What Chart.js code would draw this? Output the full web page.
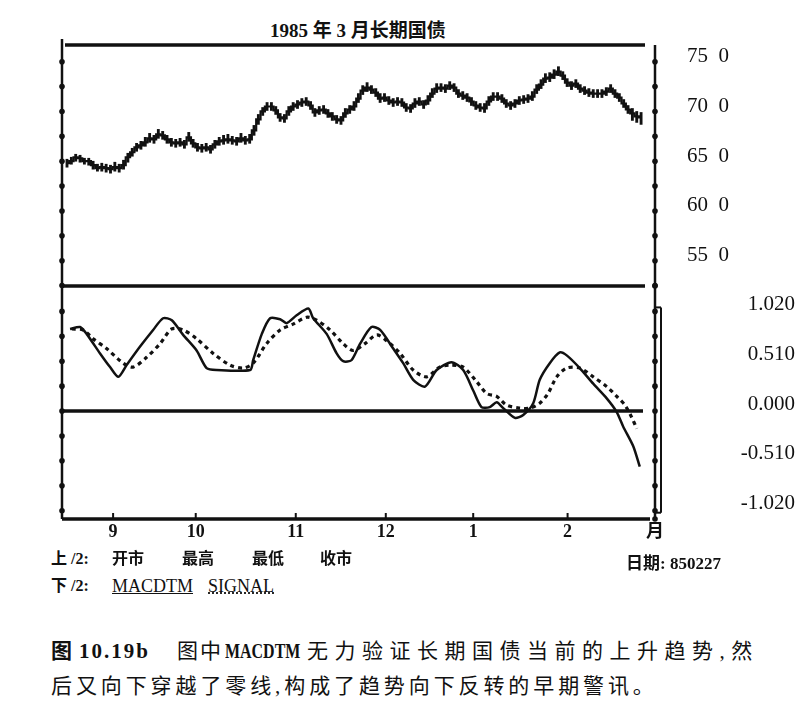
<!DOCTYPE html>
<html>
<head>
<meta charset="utf-8">
<script src="https://cdn.jsdelivr.net/npm/chart.js@4.4.1/dist/chart.umd.min.js"></script>
<style>
body { margin: 0; background: #fff; width: 795px; height: 709px; overflow: hidden; position: relative;
       font-family: "Liberation Serif", "Noto Sans CJK SC", serif; color: #111; }
canvas { position: absolute; left: 0; }
#priceChart { top: 0; }
#macdChart { top: 280px; }
.t { position: absolute; white-space: pre; line-height: 1; }
.b { font-weight: bold; }
</style>
</head>
<body>
<div class="t b" style="left:0;width:716px;text-align:center;top:21px;font-size:19px">1985 年 3 月长期国债</div>

<canvas id="priceChart" width="795" height="300"></canvas>
<canvas id="macdChart" width="795" height="270"></canvas>

<div class="t b" style="left:51px;top:551px;font-size:16px">上 /2:</div>
<div class="t b" style="left:112px;top:551px;font-size:16px">开市</div>
<div class="t b" style="left:182px;top:551px;font-size:16px">最高</div>
<div class="t b" style="left:252px;top:551px;font-size:16px">最低</div>
<div class="t b" style="left:320px;top:551px;font-size:16px">收市</div>
<div class="t b" style="left:626px;top:555px;font-size:17px">日期: 850227</div>
<div class="t b" style="left:51px;top:578px;font-size:16px">下 /2:</div>
<div class="t" style="left:112px;top:577px;font-size:18px;text-decoration:underline">MACDTM</div>
<div class="t" style="left:208px;top:577px;font-size:18px;text-decoration:underline dotted">SIGNAL</div>

<div class="t b" style="left:51px;top:641px;font-size:21px">图</div>
<div class="t b" style="left:79px;top:641px;font-size:21px;letter-spacing:2px">10.19b</div>
<div class="t" style="left:177px;top:641px;font-size:21px;letter-spacing:2px">图中</div>
<div class="t b" style="left:225px;top:641px;font-size:21px;transform:scaleX(0.76);transform-origin:0 0">MACDTM</div>
<div class="t" style="left:307px;top:641px;font-size:21px;letter-spacing:6.5px">无力验证长期国债当前的上升趋势,然</div>
<div class="t" style="left:51px;top:676px;font-size:21px;letter-spacing:3.9px">后又向下穿越了零线,构成了趋势向下反转的早期警讯。</div>

<script>
// trading days from mid Aug 1984 to 27 Feb 1985
const closes = [
  64.8, 65.0, 65.4, 65.3, 65.0, 65.0, 64.6, 64.3, 64.4, 64.3,
  64.2, 64.4, 64.3, 64.6, 65.4, 65.9, 66.4, 66.6, 66.9, 67.3,
  67.2, 67.7, 67.6, 67.2, 66.9, 66.8, 66.9, 66.7, 67.4, 66.8,
  66.4, 66.3, 66.4, 66.2, 66.7, 67.0, 67.1, 67.2, 67.1, 67.0,
  67.3, 67.1, 67.2, 68.1, 69.2, 70.0, 70.5, 70.5, 70.1, 69.4,
  69.3, 70.0, 70.5, 70.7, 70.9, 71.0, 70.6, 69.9, 70.1, 70.2,
  69.8, 69.5, 69.2, 69.1, 69.8, 70.2, 70.5, 71.3, 72.1, 72.4,
  72.2, 71.9, 71.3, 71.4, 71.1, 70.9, 71.0, 70.9, 70.4, 70.3,
  70.8, 71.0, 70.7, 71.1, 71.8, 72.3, 72.4, 72.3, 72.6, 72.4,
  71.8, 71.6, 71.4, 71.0, 70.6, 70.4, 70.3, 71.0, 71.5, 71.5,
  71.3, 70.8, 70.6, 70.8, 71.1, 71.2, 71.3, 71.5, 72.2, 72.7,
  73.3, 73.4, 73.7, 74.0, 73.6, 72.9, 72.6, 72.8, 72.3, 72.1,
  71.9, 71.8, 71.8, 71.8, 72.0, 72.3, 71.8, 71.4, 70.8, 70.2,
  69.8, 69.5, 69.4
];
const highs = [
  65.2, 65.4, 65.7, 65.6, 65.3, 65.3, 65.0, 64.7, 64.8, 64.7,
  64.6, 64.9, 64.7, 65.1, 65.8, 66.3, 66.8, 67.0, 67.4, 67.8,
  67.6, 68.2, 68.0, 67.6, 67.3, 67.2, 67.3, 67.1, 67.9, 67.2,
  66.8, 66.7, 66.8, 66.6, 67.1, 67.4, 67.6, 67.7, 67.5, 67.4,
  67.8, 67.5, 67.7, 68.6, 69.7, 70.4, 70.9, 70.9, 70.5, 69.8,
  69.7, 70.5, 70.9, 71.1, 71.3, 71.4, 71.0, 70.3, 70.5, 70.6,
  70.2, 69.9, 69.6, 69.5, 70.3, 70.6, 71.0, 71.8, 72.6, 72.9,
  72.6, 72.3, 71.8, 71.8, 71.5, 71.3, 71.4, 71.3, 70.8, 70.7,
  71.3, 71.4, 71.1, 71.6, 72.3, 72.8, 72.8, 72.7, 73.0, 72.8,
  72.2, 72.0, 71.8, 71.4, 71.0, 70.8, 70.8, 71.5, 71.9, 71.9,
  71.7, 71.2, 71.0, 71.2, 71.5, 71.6, 71.7, 72.0, 72.7, 73.2,
  73.8, 73.9, 74.2, 74.5, 74.0, 73.3, 73.0, 73.2, 72.7, 72.5,
  72.3, 72.2, 72.2, 72.2, 72.4, 72.7, 72.2, 71.8, 71.2, 70.6,
  70.3, 70.0, 69.9
];
const lows = [
  64.4, 64.7, 65.0, 64.9, 64.7, 64.6, 64.2, 64.0, 64.0, 63.9,
  63.8, 64.0, 63.9, 64.2, 64.9, 65.5, 66.0, 66.2, 66.5, 66.9,
  66.8, 67.3, 67.2, 66.8, 66.5, 66.4, 66.5, 66.3, 67.0, 66.4,
  66.0, 65.9, 66.0, 65.8, 66.3, 66.6, 66.7, 66.8, 66.7, 66.6,
  66.9, 66.7, 66.8, 67.6, 68.7, 69.6, 70.1, 70.1, 69.7, 69.0,
  68.9, 69.6, 70.1, 70.3, 70.5, 70.6, 70.2, 69.5, 69.7, 69.8,
  69.4, 69.1, 68.8, 68.7, 69.4, 69.8, 70.1, 70.9, 71.7, 72.0,
  71.8, 71.5, 70.9, 71.0, 70.7, 70.5, 70.6, 70.5, 70.0, 69.9,
  70.4, 70.6, 70.3, 70.7, 71.4, 71.9, 72.0, 71.9, 72.2, 72.0,
  71.4, 71.2, 71.0, 70.6, 70.2, 70.0, 69.9, 70.6, 71.1, 71.1,
  70.9, 70.4, 70.2, 70.4, 70.7, 70.8, 70.9, 71.1, 71.8, 72.3,
  72.9, 73.0, 73.3, 73.6, 73.2, 72.5, 72.2, 72.4, 71.9, 71.7,
  71.5, 71.4, 71.4, 71.4, 71.6, 71.9, 71.4, 71.0, 70.4, 69.8,
  69.1, 68.9, 68.7
];

// MACDTM and SIGNAL read at trading-day positions
const macdDays = [0.7, 3.0, 4.5, 7.6, 9.9, 11.8, 13.7, 16.8, 19.8, 22.1, 24.1, 26.7, 29.8, 32.1, 34.4,
  42.1, 42.8, 44.8, 46.7, 49.0, 50.5, 52.8, 55.5, 56.6, 59.7, 62.0, 63.5, 65.4, 67.4, 70.0,
  72.0, 75.0, 77.3, 79.6, 82.3, 85.0, 88.4, 91.1, 93.4, 95.3, 97.2, 98.8, 100.3, 103.0, 104.9,
  107.2, 108.7, 111.0, 113.3, 114.9, 117.9, 121.0, 124.1, 126.4, 127.9, 130.2, 131.7];
const macdValues = [0.84, 0.86, 0.79, 0.59, 0.45, 0.35, 0.47, 0.66, 0.83, 0.95, 0.93, 0.78, 0.62, 0.44, 0.42,
  0.42, 0.52, 0.79, 0.95, 0.94, 0.90, 0.98, 1.05, 0.95, 0.79, 0.59, 0.51, 0.52, 0.69, 0.86,
  0.83, 0.64, 0.49, 0.32, 0.25, 0.42, 0.50, 0.42, 0.21, 0.04, 0.04, 0.09, 0.03, -0.07, -0.04,
  0.08, 0.32, 0.49, 0.60, 0.57, 0.44, 0.28, 0.13, -0.01, -0.16, -0.36, -0.57];
const signalDays = [1.1, 3.7, 6.0, 9.1, 12.9, 15.2, 18.3, 21.4, 24.1, 26.7, 29.8, 33.6, 37.5, 40.5, 42.8,
  45.9, 49.0, 52.0, 55.1, 57.4, 60.5, 63.5, 65.8, 68.5, 71.2, 73.5, 76.6, 79.6, 82.7, 85.7,
  88.4, 91.1, 94.2, 96.5, 98.8, 101.1, 104.1, 106.4, 108.7, 110.6, 112.6, 114.9, 117.9, 121.0,
  124.1, 126.4, 128.3, 129.8, 131.0];
const signalValues = [0.84, 0.83, 0.74, 0.64, 0.49, 0.45, 0.55, 0.69, 0.84, 0.83, 0.74, 0.59, 0.47, 0.44, 0.49,
  0.69, 0.83, 0.89, 0.96, 0.93, 0.83, 0.69, 0.62, 0.69, 0.78, 0.72, 0.59, 0.42, 0.35, 0.45,
  0.47, 0.45, 0.30, 0.18, 0.15, 0.06, 0.03, 0.03, 0.08, 0.18, 0.35, 0.44, 0.44, 0.35,
  0.25, 0.15, 0.06, -0.06, -0.18];

const priceTicks = [52.5, 55, 57.5, 60, 62.5, 65, 67.5, 70, 72.5, 75];
const priceTickLabels = ['', '55  0', '', '60  0', '', '65  0', '', '70  0', '', '75  0'];
const macdTicks = [-1.02, -0.765, -0.51, -0.255, 0, 0.255, 0.51, 0.765, 1.02];
const macdTickLabels = ['-1.020', '', '-0.510', '', '0.000', '', '0.510', '', '1.020'];
const monthTicks = [10.6, 29.6, 52.6, 73.3, 93.4, 115.1, 135.2];
const monthLabels = ['9', '10', '11', '12', '1', '2', '月'];

const ink = '#111';
const dayMin = -1.15, dayMax = 135.2;

function dot(ctx, x, y) {
    ctx.beginPath();
    ctx.arc(x, y, 2.8, 0, Math.PI * 2);
    ctx.fill();
}
function line(ctx, x0, y0, x1, y1, w) {
    ctx.lineWidth = w;
    ctx.beginPath();
    ctx.moveTo(x0, y0);
    ctx.lineTo(x1, y1);
    ctx.stroke();
}
// keep the axis boxes exactly where the page layout wants them
function fixWidth(s) { s.width = 140; s.paddingTop = 0; s.paddingBottom = 0; }

const priceFrame = {
    id: 'priceFrame',
    afterDraw(chart) {
        const { ctx, chartArea: a, scales: { y } } = chart;
        ctx.save();
        ctx.strokeStyle = ink; ctx.fillStyle = ink;
        line(ctx, a.left + 3, a.top, a.right - 10, a.top, 3.5);
        line(ctx, a.left, a.bottom, a.right - 10, a.bottom, 3.5);
        line(ctx, a.left, a.top - 6, a.left, a.bottom, 2.5);
        line(ctx, a.right, a.top, a.right, a.bottom, 2.5);
        priceTicks.forEach(v => {
            dot(ctx, a.left, y.getPixelForValue(v));
            dot(ctx, a.right, y.getPixelForValue(v));
        });
        ctx.restore();
    }
};

const macdFrame = {
    id: 'macdFrame',
    afterDraw(chart) {
        const { ctx, chartArea: a, scales: { x, y } } = chart;
        ctx.save();
        ctx.strokeStyle = ink; ctx.fillStyle = ink;
        const zero = y.getPixelForValue(0);
        line(ctx, a.left, zero, a.right - 12, zero, 3.5);
        line(ctx, a.left, a.bottom, a.right - 5, a.bottom, 3.5);
        line(ctx, a.left, a.top, a.left, a.bottom, 2.5);
        line(ctx, a.right, a.top, a.right, a.bottom + 2, 2.5);
        const boxTop = y.getPixelForValue(1.02) - 4, boxBot = y.getPixelForValue(-1.02) + 2;
        line(ctx, a.right + 6, boxTop, a.right + 6, boxBot, 2);
        line(ctx, a.right, boxTop, a.right + 6, boxTop, 2);
        line(ctx, a.right, boxBot, a.right + 6, boxBot, 2);
        macdTicks.forEach(v => {
            dot(ctx, a.left, y.getPixelForValue(v));
            dot(ctx, a.right, y.getPixelForValue(v));
        });
        dot(ctx, a.right, a.top);
        dot(ctx, a.right, a.bottom);
        monthTicks.slice(0, -1).forEach(d => {
            const px = x.getPixelForValue(d);
            line(ctx, px, a.bottom, px, a.bottom - 6, 2);
        });
        ctx.restore();
    }
};

const dayIndex = closes.map((c, i) => i);

new Chart(document.getElementById('priceChart'), {
    type: 'bar',
    data: {
        datasets: [{
            data: dayIndex.map(i => ({ x: i, y: [lows[i], highs[i]] })),
            backgroundColor: ink,
            barThickness: 2.2
        }, {
            type: 'line',
            data: dayIndex.map(i => ({ x: i, y: closes[i] })),
            borderColor: ink,
            borderWidth: 2.2,
            stepped: 'middle',
            pointRadius: 0
        }]
    },
    options: {
        responsive: false,
        animation: false,
        layout: { padding: { top: 45, left: 62, bottom: 14, right: 0 } },
        plugins: { legend: { display: false }, tooltip: { enabled: false } },
        scales: {
            x: { type: 'linear', min: dayMin, max: dayMax, offset: false, display: false },
            y: {
                position: 'right',
                min: 52.46, max: 76.68,
                beginAtZero: false,
                afterBuildTicks: s => { s.ticks = priceTicks.map(v => ({ value: v })); },
                afterFit: fixWidth,
                grid: { display: false, drawTicks: false },
                border: { display: false },
                ticks: {
                    padding: 32, labelOffset: -5, autoSkip: false, color: ink,
                    font: { family: 'Liberation Serif', size: 21 },
                    callback: (v, i) => priceTickLabels[i]
                }
            }
        }
    },
    plugins: [priceFrame]
});

new Chart(document.getElementById('macdChart'), {
    type: 'line',
    data: {
        datasets: [{
            label: 'MACDTM',
            data: macdDays.map((d, i) => ({ x: d, y: macdValues[i] })),
            borderColor: ink,
            borderWidth: 2.5,
            tension: 0.25,
            pointRadius: 0
        }, {
            label: 'SIGNAL',
            data: signalDays.map((d, i) => ({ x: d, y: signalValues[i] })),
            borderColor: ink,
            borderWidth: 3.2,
            borderDash: [4, 4],
            tension: 0.3,
            pointRadius: 0
        }]
    },
    options: {
        responsive: false,
        animation: false,
        layout: { padding: { top: 6, left: 62, bottom: 0, right: 0 } },
        plugins: { legend: { display: false }, tooltip: { enabled: false } },
        scales: {
            x: {
                type: 'linear', min: dayMin, max: dayMax,
                afterBuildTicks: s => { s.ticks = monthTicks.map(v => ({ value: v })); },
                afterFit: s => { s.height = 31; s.paddingLeft = 0; s.paddingRight = 0; },
                grid: { display: false, drawTicks: false },
                border: { display: false },
                ticks: {
                    padding: 3, autoSkip: false, maxRotation: 0, color: ink,
                    font: { family: "'Liberation Serif', 'Noto Sans CJK SC'", size: 18, weight: 'bold' },
                    callback: (v, i) => monthLabels[i]
                }
            },
            y: {
                position: 'right',
                min: -1.105, max: 1.28,
                afterBuildTicks: s => { s.ticks = macdTicks.map(v => ({ value: v })); },
                afterFit: fixWidth,
                grid: { display: false, drawTicks: false },
                border: { display: false },
                ticks: {
                    padding: 25, labelOffset: -7, crossAlign: 'far', autoSkip: false, color: ink,
                    font: { family: 'Liberation Serif', size: 21 },
                    callback: (v, i) => macdTickLabels[i]
                }
            }
        }
    },
    plugins: [macdFrame]
});
</script>
</body>
</html>
